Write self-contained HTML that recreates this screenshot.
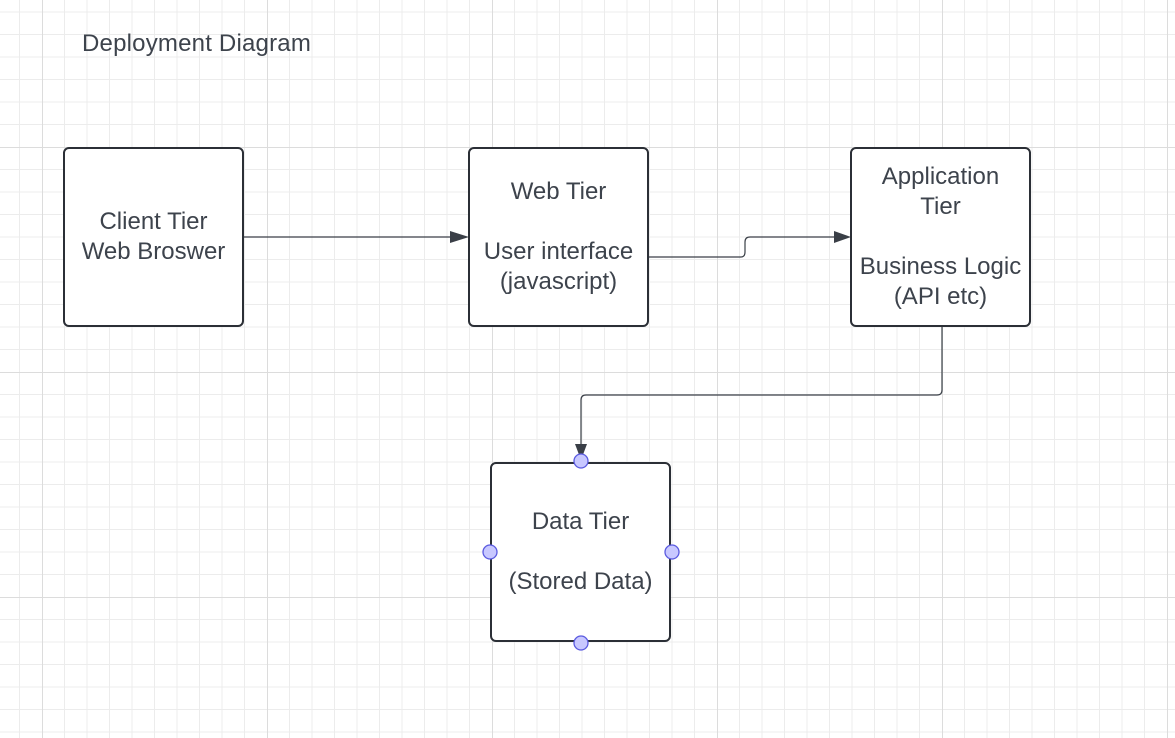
<!DOCTYPE html>
<html><head><style>
body{margin:0;width:1175px;height:738px;overflow:hidden;background:#fff;font-family:"Liberation Sans",sans-serif;}
.box{position:absolute;box-sizing:border-box;border:2px solid #2b2f36;border-radius:6px;background:#fff;width:181px;height:180px;color:#3d434c;font-size:24px;text-align:center;display:flex;align-items:center;justify-content:center;line-height:30px;white-space:nowrap;}
.t{position:absolute;left:82px;top:30px;font-size:24px;color:#3d434c;letter-spacing:0.2px;}
</style></head><body>
<svg style="position:absolute;left:0;top:0" width="1175" height="738">
<defs>
<pattern id="g" width="225" height="225" patternUnits="userSpaceOnUse" x="42" y="147">
<g stroke="#ececec" stroke-width="1">
<path d="M22.5,0V225M45,0V225M67.5,0V225M90,0V225M112.5,0V225M135,0V225M157.5,0V225M180,0V225M202.5,0V225"/>
<path d="M0,22.5H225M0,45H225M0,67.5H225M0,90H225M0,112.5H225M0,135H225M0,157.5H225M0,180H225M0,202.5H225"/>
</g>
<g stroke="#dcdcdc" stroke-width="2"><path d="M0,0V225M0,0H225"/></g>
</pattern>
</defs>
<rect width="1175" height="738" fill="url(#g)"/>
<path d="M244,237H452" stroke="#3a3f47" stroke-width="1.2" fill="none"/>
<path d="M450,231L469,237L450,243z" fill="#3a3f47"/>
<path d="M642,257H741Q745,257 745,252V242Q745,237 750,237H836" stroke="#3a3f47" stroke-width="1.2" fill="none"/>
<path d="M834,231L851,237L834,243z" fill="#3a3f47"/>
<path d="M942,327V390Q942,395 937,395H586Q581,395 581,400V446" stroke="#3a3f47" stroke-width="1.2" fill="none"/>
<path d="M575,444L581,460L587,444z" fill="#3a3f47"/>
</svg>
<div class="t">Deployment Diagram</div>
<div class="box" style="left:63px;top:147px">Client Tier<br>Web Broswer</div>
<div class="box" style="left:468px;top:147px">Web Tier<br><br>User interface<br>(javascript)</div>
<div class="box" style="left:850px;top:147px">Application<br>Tier<br><br>Business Logic<br>(API etc)</div>
<div class="box" style="left:490px;top:462px">Data Tier<br><br>(Stored Data)</div>
<svg style="position:absolute;left:0;top:0" width="1175" height="738">
<g fill="#c8c8ff" stroke="#5a5ae0" stroke-width="1.3">
<circle cx="581" cy="461" r="7"/><circle cx="581" cy="643" r="7"/><circle cx="490" cy="552" r="7"/><circle cx="672" cy="552" r="7"/>
</g></svg>
</body></html>
